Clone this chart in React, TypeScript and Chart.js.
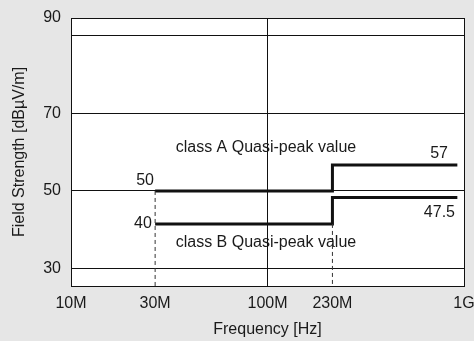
import { useEffect, useRef } from 'react';
import { Chart, registerables } from 'chart.js';

Chart.register(...registerables);

// Frequency axis (log), positions as drawn in the reference
const xTickValues = [1e7, 2.68e7, 1e8, 2.14e8, 1e9];
const xTickLabels = ['10M', '30M', '100M', '230M', '1G'];
const xMin = 1e7;
const xMax = 1e9;

// Field strength axis
const yTickValues = [30, 50, 70, 90, 94.6];
const yTickLabels = ['30', '50', '70', '', '90'];
const yMin = 25.5;
const yMax = 94.6;

// Class A quasi-peak limit (step)
const classAFreq = [2.68e7, 2.14e8, 2.14e8, 9.25e8];
const classAValues = [50, 50, 56.7, 56.7];

// Class B quasi-peak limit (step)
const classBFreq = [2.68e7, 2.14e8, 2.14e8, 9.25e8];
const classBValues = [41.5, 41.5, 48.3, 48.3];

// Dashed markers
const marker30Freq = [2.68e7, 2.68e7];
const marker30Values = [50, 25.5];
const marker230Freq = [2.14e8, 2.14e8];
const marker230Values = [41.5, 25.5];

// Text annotations anchored in data space
const noteTexts = ['class A Quasi-peak value', 'class B Quasi-peak value', '50', '40', '57', '47.5'];
const noteFreq = [3.41e7, 3.41e7, 2.645e7, 2.58e7, 8.29e8, 9.0e8];
const noteValues = [61.1, 36.65, 52.6, 41.7, 59.7, 44.5];
const noteAlign = ['left', 'left', 'right', 'right', 'right', 'right'];

const FONT = "'Liberation Sans', Arial, sans-serif";
const FS = 16;
const TEXT = '#1a1a1a';
const LINE = '#111';

const toPts = (xs: number[], ys: number[]) => xs.map((x, i) => ({ x, y: ys[i] }));

const bgPlugin = {
  id: 'bg',
  beforeDraw(chart: any) {
    const { ctx, chartArea } = chart;
    ctx.save();
    ctx.fillStyle = '#e6e6e6';
    ctx.fillRect(0, 0, chart.width, chart.height);
    ctx.fillStyle = '#ffffff';
    ctx.fillRect(chartArea.left, chartArea.top, chartArea.right - chartArea.left, chartArea.bottom - chartArea.top);
    ctx.restore();
  },
};

const notesPlugin = {
  id: 'notes',
  afterDatasetsDraw(chart: any) {
    const { ctx } = chart;
    const xs = chart.scales.x;
    const ys = chart.scales.y;
    ctx.save();
    ctx.font = `${FS}px ${FONT}`;
    ctx.fillStyle = TEXT;
    ctx.textBaseline = 'middle';
    noteTexts.forEach((t, i) => {
      ctx.textAlign = noteAlign[i];
      ctx.fillText(t, xs.getPixelForValue(noteFreq[i]), ys.getPixelForValue(noteValues[i]));
    });
    ctx.restore();
  },
};

export default function App() {
  const ref = useRef<HTMLCanvasElement>(null);
  useEffect(() => {
    if (!ref.current) return;
    const limitStyle = {
      borderColor: LINE,
      borderWidth: 3,
      pointRadius: 0,
      fill: false,
      tension: 0,
      borderCapStyle: 'butt',
      borderJoinStyle: 'miter',
    };
    const dashStyle = {
      borderColor: '#333',
      borderWidth: 1,
      borderDash: [4, 3],
      pointRadius: 0,
      fill: false,
    };
    const chart = new Chart(ref.current, {
      type: 'line',
      data: {
        datasets: [
          { ...dashStyle, data: toPts(marker30Freq, marker30Values) },
          { ...dashStyle, data: toPts(marker230Freq, marker230Values) },
          { ...limitStyle, label: 'class A', data: toPts(classAFreq, classAValues) },
          { ...limitStyle, label: 'class B', data: toPts(classBFreq, classBValues) },
        ] as any,
      },
      options: {
        animation: false,
        responsive: true,
        maintainAspectRatio: false,
        layout: { padding: { top: 18, right: 10, left: 0, bottom: 0 } },
        plugins: { legend: { display: false }, tooltip: { enabled: false } },
        scales: {
          x: {
            type: 'logarithmic',
            min: xMin,
            max: xMax,
            afterBuildTicks: (s: any) => {
              s.ticks = xTickValues.map((v) => ({ value: v }));
            },
            afterFit: (s: any) => {
              s.height = 55;
              s.paddingLeft = 0;
              s.paddingRight = 0;
            },
            ticks: {
              autoSkip: false,
              maxRotation: 0,
              minRotation: 0,
              padding: 8,
              color: TEXT,
              font: { family: FONT, size: FS },
              callback: (_v: any, i: number) => xTickLabels[i],
            },
            grid: {
              drawTicks: false,
              lineWidth: 1,
              color: (c: any) => (c.tick && (c.tick.value === 1e8 || c.tick.value === 1e9) ? LINE : 'rgba(0,0,0,0)'),
            },
            border: { display: true, color: LINE, width: 1 },
            title: {
              display: true,
              text: 'Frequency [Hz]',
              color: TEXT,
              font: { family: FONT, size: FS },
              padding: { top: 0, bottom: 1.5 },
            },
          },
          y: {
            type: 'linear',
            min: yMin,
            max: yMax,
            afterBuildTicks: (s: any) => {
              s.ticks = yTickValues.map((v) => ({ value: v }));
            },
            afterFit: (s: any) => {
              s.width = 71;
              s.paddingTop = 0;
              s.paddingBottom = 0;
            },
            ticks: {
              autoSkip: false,
              padding: 10,
              color: TEXT,
              font: { family: FONT, size: FS },
              callback: (_v: any, i: number) => yTickLabels[i],
            },
            grid: { drawTicks: false, lineWidth: 1, color: LINE },
            border: { display: true, color: LINE, width: 1 },
            title: {
              display: true,
              text: 'Field Strength [dBµV/m]',
              color: TEXT,
              font: { family: FONT, size: FS },
              padding: { top: 9.5, bottom: 0 },
            },
          },
        },
      } as any,
      plugins: [bgPlugin, notesPlugin],
    });
    return () => chart.destroy();
  }, []);
  return (
    <div style={{ position: 'absolute', left: 0, top: 0, width: 474, height: 341 }}>
      <canvas ref={ref} />
    </div>
  );
}
